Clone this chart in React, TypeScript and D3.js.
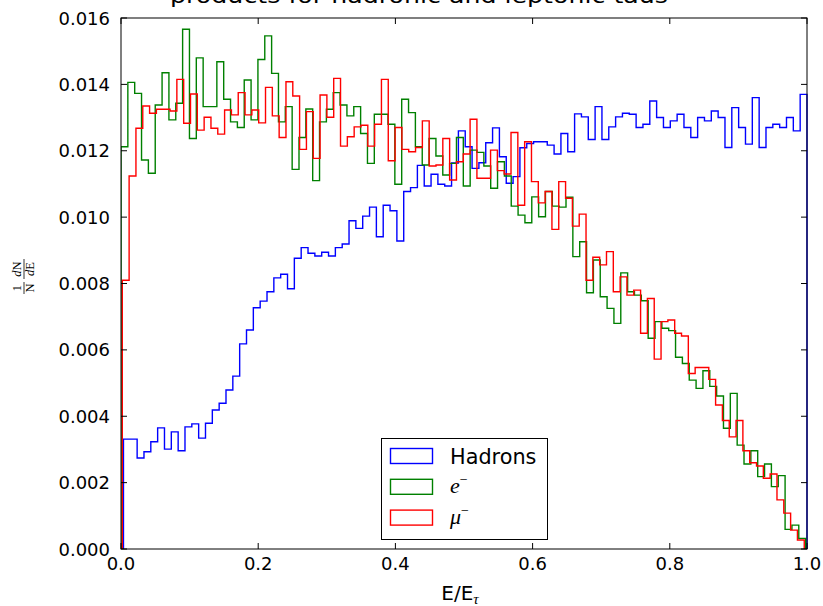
import React from "react";
import * as d3 from "d3";

// Histogram ranges (E/E_tau) for each sample
const hadronRange: [number, number] = [0.0036, 1.0];
const electronRange: [number, number] = [0.0, 0.998];
const muonRange: [number, number] = [0.0019, 0.996];

const hadrons: number[] = [
  0.00331, 0.00331, 0.00274, 0.00293, 0.00323, 0.00365, 0.00301, 0.00353, 0.00296, 0.00368,
  0.00377, 0.00334, 0.00379, 0.00419, 0.00439, 0.00479, 0.00521, 0.00618, 0.0066, 0.00727,
  0.00747, 0.00775, 0.00817, 0.00828, 0.00784, 0.00876, 0.00908, 0.00891, 0.00883, 0.00894,
  0.00883, 0.00908, 0.00919, 0.00989, 0.00966, 0.01003, 0.0103, 0.00941, 0.01036, 0.01019,
  0.00928, 0.01077, 0.01089, 0.01156, 0.01094, 0.01129, 0.01099, 0.01094, 0.01163, 0.0126,
  0.01212, 0.01147, 0.01164, 0.01224, 0.01269, 0.01182, 0.01102, 0.01122, 0.01209, 0.01222,
  0.01227, 0.01227, 0.01217, 0.0119, 0.01252, 0.01197, 0.01311, 0.01302, 0.01234, 0.01333,
  0.01234, 0.01272, 0.01302, 0.01313, 0.0131, 0.0127, 0.0128, 0.0135, 0.013, 0.0127,
  0.0129, 0.0131, 0.0127, 0.0124, 0.013, 0.0129, 0.0132, 0.013, 0.0121, 0.0133,
  0.0127, 0.0122, 0.0136, 0.0121, 0.0127, 0.0128, 0.0127, 0.013, 0.0126, 0.0137,
];

const electrons: number[] = [
  0.01212, 0.01406, 0.01373, 0.01172, 0.01132, 0.01338, 0.01435, 0.01293, 0.01343, 0.01566,
  0.01237, 0.0148, 0.01333, 0.01333, 0.01468, 0.01355, 0.01287, 0.0127, 0.01413, 0.01293,
  0.01475, 0.01546, 0.01433, 0.01287, 0.01333, 0.01144, 0.0124, 0.01326, 0.0111, 0.01287,
  0.01325, 0.01375, 0.01338, 0.01305, 0.01333, 0.01252, 0.01162, 0.0131, 0.0131, 0.0128,
  0.01099, 0.01355, 0.01315, 0.01212, 0.01157, 0.01237, 0.01184, 0.01127, 0.01162, 0.0124,
  0.01094, 0.01202, 0.01195, 0.01154, 0.01087, 0.01167, 0.01124, 0.01033, 0.01006, 0.00983,
  0.01061, 0.01001, 0.01077, 0.01033, 0.0103, 0.0106, 0.00881, 0.00926, 0.00772, 0.00871,
  0.0076, 0.00725, 0.0068, 0.00832, 0.00775, 0.00765, 0.00748, 0.00635, 0.00685, 0.00665,
  0.00658, 0.00578, 0.00559, 0.00509, 0.00484, 0.00537, 0.0049, 0.00461, 0.00364, 0.00469,
  0.00313, 0.00256, 0.00296, 0.00218, 0.00256, 0.00188, 0.00221, 0.00059, 0.00072, 0.00032,
];

const muons: number[] = [
  0.0081, 0.01124, 0.01268, 0.01335, 0.01313, 0.01325, 0.01325, 0.0132, 0.01415, 0.01283,
  0.01371, 0.01262, 0.01301, 0.01268, 0.0125, 0.01323, 0.01308, 0.01375, 0.01308, 0.01323,
  0.01284, 0.01391, 0.01305, 0.0124, 0.01408, 0.01365, 0.01204, 0.01318, 0.01177, 0.01368,
  0.01301, 0.01418, 0.01214, 0.01242, 0.01272, 0.01277, 0.01214, 0.0128, 0.01415, 0.0117,
  0.0127, 0.01204, 0.01197, 0.0121, 0.0129, 0.01154, 0.01157, 0.01237, 0.01112, 0.01167,
  0.0119, 0.01295, 0.01117, 0.01117, 0.01202, 0.0114, 0.0113, 0.01255, 0.01036, 0.01227,
  0.01107, 0.01043, 0.01077, 0.00963, 0.01107, 0.01057, 0.00973, 0.01009, 0.0081, 0.00879,
  0.00856, 0.00896, 0.00775, 0.0082, 0.00765, 0.0078, 0.0065, 0.00755, 0.00572, 0.00685,
  0.0069, 0.0065, 0.00642, 0.00529, 0.00547, 0.00547, 0.00511, 0.00434, 0.00387, 0.00338,
  0.00387, 0.00296, 0.0026, 0.0025, 0.00213, 0.00226, 0.00148, 0.00108, 0.00057, 0.00027,
];

const xTicks: number[] = [0, 0.2, 0.4, 0.6, 0.8, 1.0];
const yTicks: number[] = [0, 0.002, 0.004, 0.006, 0.008, 0.01, 0.012, 0.014, 0.016];

const W = 823;
const H = 606;
const left = 121;
const right = 807;
const top = 18;
const bottom = 549;

const x = d3.scaleLinear().domain([0, 1]).range([left, right]);
const y = d3.scaleLinear().domain([0, 0.016]).range([bottom, top]);

function stepPath(values: number[], range: [number, number]): string {
  const n = values.length;
  const edges = d3.range(n + 1).map((i) => range[0] + ((range[1] - range[0]) * i) / n);
  const pts: [number, number][] = [[edges[0], 0]];
  values.forEach((v, i) => pts.push([edges[i], v]));
  pts.push([edges[n], values[n - 1]]);
  pts.push([edges[n], 0]);
  const line = d3
    .line<[number, number]>()
    .x((d) => x(d[0]))
    .y((d) => y(d[1]))
    .curve(d3.curveStepAfter);
  return line(pts) || "";
}

const series = [
  { name: "Hadrons", values: hadrons, range: hadronRange, color: "#0000ff" },
  { name: "e", values: electrons, range: electronRange, color: "#008000" },
  { name: "mu", values: muons, range: muonRange, color: "#ff0000" },
];

const sans = "'DejaVu Sans', sans-serif";
const serif = "'Liberation Serif', 'DejaVu Serif', serif";

export default function App() {
  const tickLen = 6;
  return (
    <svg
      width={W}
      height={H}
      style={{ position: "absolute", left: 0, top: 0, background: "#fff" }}
      xmlns="http://www.w3.org/2000/svg"
    >
      <rect x={0} y={0} width={W} height={H} fill="#fff" />
      {/* Title (cut off at the top of the figure, as in the source) */}
      <text
        x={170}
        y={3}
        fontFamily={sans}
        fontSize={22}
        textLength={498}
        lengthAdjust="spacingAndGlyphs"
        fill="#000"
      >
        products for hadronic and leptonic taus
      </text>

      <defs>
        <clipPath id="plotclip">
          <rect x={left} y={top} width={right - left + 1} height={bottom - top} />
        </clipPath>
      </defs>

      <g clipPath="url(#plotclip)">
        {series.map((s) => (
          <path
            key={s.name}
            d={stepPath(s.values, s.range)}
            fill="none"
            stroke={s.color}
            strokeWidth={1.4}
            strokeLinejoin="miter"
          />
        ))}
      </g>

      {/* Frame */}
      <rect x={left} y={top} width={right - left} height={bottom - top} fill="none" stroke="#000" strokeWidth={1} />

      {/* X ticks */}
      {xTicks.map((t) => (
        <g key={"x" + t}>
          <line x1={x(t)} x2={x(t)} y1={bottom} y2={bottom - tickLen} stroke="#000" />
          <line x1={x(t)} x2={x(t)} y1={top} y2={top + tickLen} stroke="#000" />
          <text x={x(t)} y={570} textAnchor="middle" fontFamily={sans} fontSize={18} fill="#000">
            {d3.format(".1f")(t)}
          </text>
        </g>
      ))}

      {/* Y ticks */}
      {yTicks.map((t) => (
        <g key={"y" + t}>
          <line x1={left} x2={left + tickLen} y1={y(t)} y2={y(t)} stroke="#000" />
          <line x1={right} x2={right - tickLen} y1={y(t)} y2={y(t)} stroke="#000" />
          <text x={110} y={y(t) + 6.5} textAnchor="end" fontFamily={sans} fontSize={18} fill="#000">
            {d3.format(".3f")(t)}
          </text>
        </g>
      ))}

      {/* X label */}
      <text x={460} y={600} textAnchor="middle" fontFamily={sans} fontSize={20} fill="#000">
        E/E
        <tspan fontFamily={serif} fontStyle="italic" fontSize={15} dy={4}>
          τ
        </tspan>
      </text>

      {/* Y label: 1/N dN/dE */}
      <g transform="translate(24,276) rotate(-90)" fontFamily={serif} fontSize={12.5} fill="#000">
        <text x={-12} y={-3} textAnchor="middle">1</text>
        <line x1={-18} x2={-6} y1={0} y2={0} stroke="#000" strokeWidth={0.8} />
        <text x={-12} y={10} textAnchor="middle">N</text>
        <text x={7} y={-3} textAnchor="middle">
          <tspan fontStyle="italic">d</tspan>N
        </text>
        <line x1={-3} x2={17} y1={0} y2={0} stroke="#000" strokeWidth={0.8} />
        <text x={7} y={10} textAnchor="middle">
          <tspan fontStyle="italic">d</tspan>E
        </text>
      </g>

      {/* Legend */}
      <g>
        <rect x={381.5} y={438.5} width={166} height={101} fill="#fff" stroke="#000" strokeWidth={1} />
        {series.map((s, i) => {
          const ry = 448.5 + i * 30.8;
          return (
            <g key={"leg" + s.name}>
              <rect x={390.5} y={ry} width={42} height={15} fill="none" stroke={s.color} strokeWidth={1.4} />
              {s.name === "Hadrons" ? (
                <text x={450} y={ry + 15} fontFamily={sans} fontSize={20.8} fill="#000">
                  Hadrons
                </text>
              ) : (
                <text x={450} y={ry + 14} fontFamily={serif} fontStyle="italic" fontSize={22} fill="#000">
                  {s.name === "e" ? "e" : "μ"}
                  <tspan fontSize={14} dy={-9} fontStyle="normal">−</tspan>
                </text>
              )}
            </g>
          );
        })}
      </g>
    </svg>
  );
}
